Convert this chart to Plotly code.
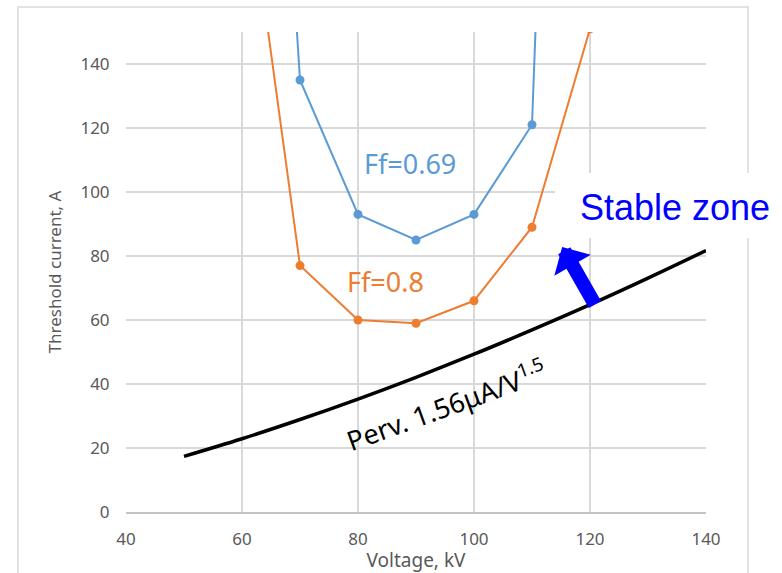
import plotly.graph_objects as go

voltage = [60, 70, 80, 90, 100, 110, 120]
ff069 = [420, 135, 93, 85, 93, 121, 610]
ff080 = [210, 77, 60, 59, 66, 89, 151]

perv_v = [50, 60, 70, 80, 90, 100, 110, 120, 130, 140]
perv_i = [17.4, 22.9, 28.9, 35.3, 42.1, 49.3, 56.9, 64.8, 73.1, 81.7]

x_ticks = [40, 60, 80, 100, 120, 140]
y_ticks = [0, 20, 40, 60, 80, 100, 120, 140]

BLUE = "#5B9BD5"
ORANGE = "#ED7D31"
FONT = "Noto Sans"
GRAY = "#595959"

fig = go.Figure()
fig.add_trace(go.Scatter(x=voltage, y=ff069, mode="lines+markers",
                         line=dict(color=BLUE, width=2), marker=dict(size=9, color=BLUE)))
fig.add_trace(go.Scatter(x=voltage, y=ff080, mode="lines+markers",
                         line=dict(color=ORANGE, width=2), marker=dict(size=9, color=ORANGE)))
fig.add_trace(go.Scatter(x=perv_v, y=perv_i, mode="lines",
                         line=dict(color="black", width=3.5, shape="spline")))

axis_common = dict(showgrid=True, gridcolor="#d9d9d9", gridwidth=1.5, zeroline=False,
                   ticks="outside", tickcolor="rgba(0,0,0,0)", automargin=False,
                   tickfont=dict(family=FONT, size=17, color=GRAY))
fig.update_xaxes(range=[40, 140], tickvals=x_ticks, ticklen=11, **axis_common,
                 showline=True, linecolor="#c4c4c4", linewidth=1.5,
                 title=dict(text="Voltage, kV", font=dict(family=FONT, size=19, color=GRAY), standoff=4))
fig.update_yaxes(range=[0, 150], tickvals=y_ticks, ticklen=12, showline=False, **axis_common,
                 title=dict(text="Threshold current, A", font=dict(family=FONT, size=17, color=GRAY), standoff=14))

fig.add_annotation(x=89, y=109, text="Ff=0.69", showarrow=False,
                   font=dict(family=FONT, size=27, color=BLUE))
fig.add_annotation(x=84.8, y=72, text="Ff=0.8", showarrow=False,
                   font=dict(family=FONT, size=27, color=ORANGE))
fig.add_annotation(x=95.2, y=33.5, text="Perv. 1.56μA/V<sup>1.5</sup>", showarrow=False,
                   textangle=-20, font=dict(family=FONT, size=27, color="black"))

# outer chart border
fig.add_shape(type="rect", xref="paper", yref="paper",
              x0=(18 - 126) / 580, x1=(748 - 126) / 580, y0=-2, y1=(512 - 7) / 480,
              line=dict(color="#d9d9d9", width=1.5), fillcolor="rgba(0,0,0,0)", layer="below")
# white box behind "Stable zone"
fig.add_shape(type="rect", xref="paper", yref="paper",
              x0=(555 - 126) / 580, x1=(790 - 126) / 580,
              y0=(512 - 238) / 480, y1=(512 - 173) / 480,
              line=dict(width=0), fillcolor="white", layer="above")
fig.add_annotation(xref="paper", yref="paper", x=(675 - 126) / 580, y=(512 - 207) / 480,
                   text="Stable zone", showarrow=False, xanchor="center", yanchor="middle",
                   font=dict(family="Liberation Sans", size=36, color="#0000FF"))
fig.add_annotation(x=115.2, y=82.8, ax=121.0, ay=64.4, axref="x", ayref="y", text="",
                   showarrow=True, arrowhead=1, arrowsize=0.5, arrowwidth=14, arrowcolor="#0000FF")

fig.update_layout(width=782, height=573, showlegend=False,
                  margin=dict(l=126, r=76, t=32, b=61),
                  plot_bgcolor="white", paper_bgcolor="white")

fig.write_html("out.html")
